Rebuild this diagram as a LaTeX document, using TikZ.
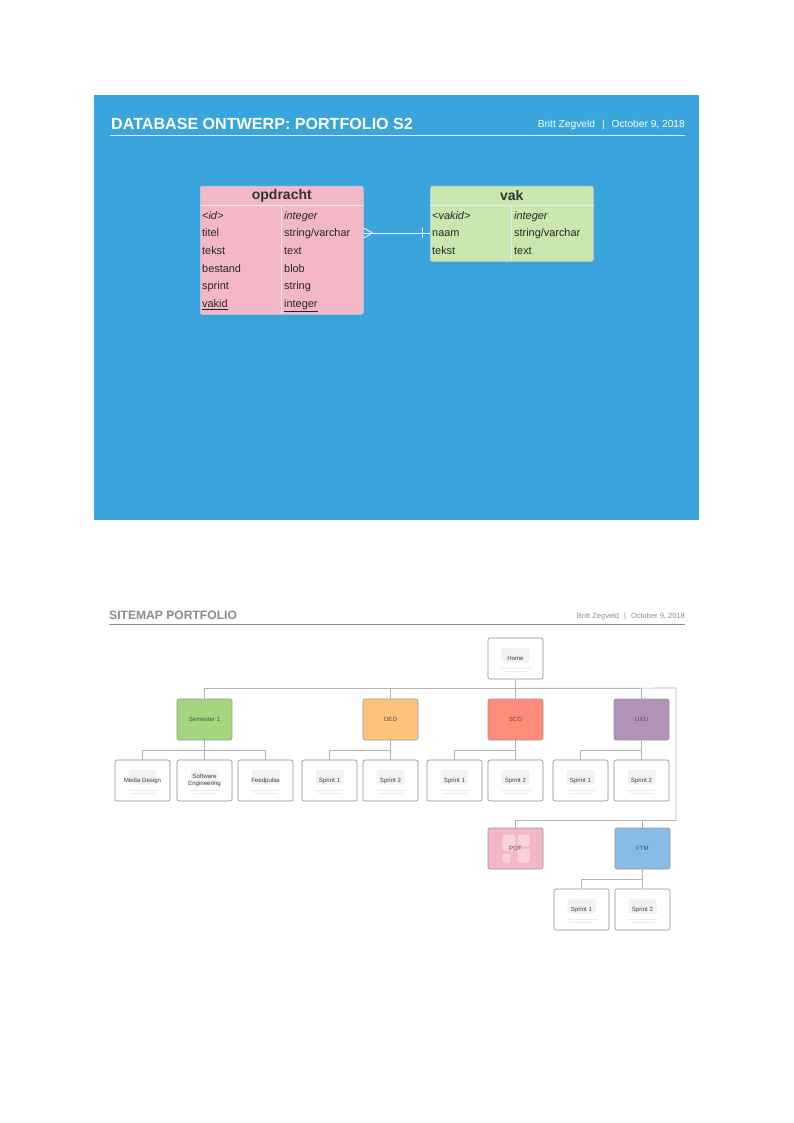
\documentclass[tikz,border=0pt]{standalone}
\usepackage{fontspec}
\setmainfont{Liberation Sans}
\usetikzlibrary{calc}
\definecolor{bgblue}{HTML}{3AA4DD}
\definecolor{tpink}{HTML}{F4B7C7}
\definecolor{tgreen}{HTML}{C9E7AE}
\definecolor{cgreen}{HTML}{A4D67E}
\definecolor{corange}{HTML}{FFC27D}
\definecolor{csalmon}{HTML}{FF8B7B}
\definecolor{cpurple}{HTML}{B292B8}
\definecolor{cpink}{HTML}{F4B5C6}
\definecolor{cblue}{HTML}{86BCE6}
\definecolor{hgray}{HTML}{8C8C8C}
\definecolor{lgray}{HTML}{B5B5B5}
\tikzset{
  tbl/.style={draw=white!80!black, line width=0.6pt, rounded corners=2pt, anchor=north west, inner sep=0pt},
  cell/.style={anchor=base west, font=\fontsize{10.9}{12}\selectfont, text=black!85, inner sep=0pt},
  thead/.style={font=\bfseries\fontsize{14}{16}\selectfont, text=black!80, inner sep=0pt},
  sep/.style={draw=white!85!gray, line width=0.7pt},
  rel/.style={draw=white, line width=0.8pt},
  pg/.style={draw=black!45, line width=0.6pt, rounded corners=2pt, minimum width=55pt, minimum height=41pt,
    fill=white, inner sep=1pt, align=center, text=black!75, font=\fontsize{6.1}{7}\selectfont,
    path picture={
      \fill[black!5] ([xshift=-14pt,yshift=11pt]path picture bounding box.center) rectangle ([xshift=14pt,yshift=-4pt]path picture bounding box.center);
      \draw[black!8, line width=0.8pt] ([xshift=-15pt,yshift=-10pt]path picture bounding box.center) -- ([xshift=15pt,yshift=-10pt]path picture bounding box.center);
      \draw[black!8, line width=0.8pt] ([xshift=-12pt,yshift=-13pt]path picture bounding box.center) -- ([xshift=12pt,yshift=-13pt]path picture bounding box.center);
    }},
  sect/.style={draw=black!40, line width=0.6pt, rounded corners=2pt, minimum width=55pt, minimum height=41pt,
    inner sep=1pt, text=black!70, font=\fontsize{6.1}{7}\selectfont},
  conn/.style={draw=lgray, line width=0.6pt},
}
\begin{document}
\begin{tikzpicture}[x=1pt,y=-1pt]
\useasboundingbox (0,0) rectangle (794,1123);
\fill[white] (0,0) rectangle (794,1123);

% ================= top panel =================
\fill[bgblue] (94,95) rectangle (699,520);
\node[anchor=base west, inner sep=0pt, text=white, font=\bfseries\fontsize{16.1}{18}\selectfont] (dbtitle) at (111,130) {DATABASE ONTWERP: PORTFOLIO S2};
\node[anchor=base east, inner sep=0pt, text=white, font=\fontsize{10.2}{12}\selectfont] (dbauthor) at (685,128) {Britt Zegveld\hspace{7pt}|\hspace{7pt}October 9, 2018};
\draw[white!80!bgblue, line width=0.8pt] (110,135) -- (685,135);

% table opdracht
\node[tbl, fill=tpink, minimum width=163pt, minimum height=128pt] (opd) at (200,186) {};
\draw[sep] (opd.north west |- 0,205) -- (opd.north east |- 0,205);
\draw[sep] (281,205) -- (281,313.5);
\node[thead] (opdh) at ($(opd.north)+(0,9.5)$) {opdracht};
\node[cell] (o1a) at (202,219) {\itshape <id>};
\node[cell] (o1b) at (284,219) {\itshape integer};
\node[cell] (o2a) at (202,236.5) {titel};
\node[cell] (o2b) at (284,236.5) {string/varchar};
\node[cell] (o3a) at (202,254.3) {tekst};
\node[cell] (o3b) at (284,254.3) {text};
\node[cell] (o4a) at (202,272) {bestand};
\node[cell] (o4b) at (284,272) {blob};
\node[cell] (o5a) at (202,289.8) {sprint};
\node[cell] (o5b) at (284,289.8) {string};
\node[cell] (o6a) at (202,307.5) {\underline{vakid}};
\node[cell] (o6b) at (284,307.5) {\underline{integer}};

% table vak
\node[tbl, fill=tgreen, minimum width=163pt, minimum height=75pt] (vak) at (430,186) {};
\draw[sep] (vak.north west |- 0,205) -- (vak.north east |- 0,205);
\draw[sep] (511,205) -- (511,260.5);
\node[thead] (vakh) at ($(vak.north)+(0,9.5)$) {vak};
\node[cell] (v1a) at (432,219) {\itshape <vakid>};
\node[cell] (v1b) at (514,219) {\itshape integer};
\node[cell] (v2a) at (432,236.5) {naam};
\node[cell] (v2b) at (514,236.5) {string/varchar};
\node[cell] (v3a) at (432,254.3) {tekst};
\node[cell] (v3b) at (514,254.3) {text};

% relation
\coordinate (ra) at ($(opd.north east)+(0,47)$);
\coordinate (rb) at ($(vak.north west)+(0,47)$);
\draw[rel] (ra) -- (rb);
\draw[rel] ($(ra)+(0,-5)$) -- ($(ra)+(9,0)$) -- ($(ra)+(0,5)$);
\draw[rel] ($(rb)+(-8,-5)$) -- ($(rb)+(-8,5)$);

% ================= sitemap =================
\node[anchor=base west, inner sep=0pt, text=hgray, font=\bfseries\fontsize{12.1}{14}\selectfont] (smtitle) at (109,619.5) {SITEMAP PORTFOLIO};
\node[anchor=base east, inner sep=0pt, text=black!45, font=\fontsize{7.5}{9}\selectfont] (smauthor) at (685,618) {Britt Zegveld\hspace{5pt}|\hspace{5pt}October 9, 2018};
\draw[black!45, line width=0.7pt] (109,624.5) -- (685,624.5);

\node[pg] (home) at (515.5,658.5) {Home};

\node[sect, fill=cgreen]  (sem) at (204.5,719.5) {Semester 1};
\node[sect, fill=corange] (ded) at (390.5,719.5) {DED};
\node[sect, fill=csalmon] (sco) at (515.5,719.5) {SCO};
\node[sect, fill=cpurple] (uxu) at (641.5,719.5) {UXU};

\node[pg] (md)  at (142.5,780.5) {Media Design};
\node[pg] (se)  at (204.5,780.5) {Software\\Engineering};
\node[pg] (fp)  at (265.5,780.5) {Feedpulse};
\node[pg] (ds1) at (329.5,780.5) {Sprint 1};
\node[pg] (ds2) at (390.5,780.5) {Sprint 2};
\node[pg] (ss1) at (454.5,780.5) {Sprint 1};
\node[pg] (ss2) at (515.5,780.5) {Sprint 2};
\node[pg] (us1) at (580.5,780.5) {Sprint 1};
\node[pg] (us2) at (641.5,780.5) {Sprint 2};

\node[sect, fill=cpink, path picture={
  \fill[white!40!cpink] ([xshift=-13pt,yshift=14pt]path picture bounding box.center) rectangle ([xshift=0pt,yshift=-2pt]path picture bounding box.center);
  \fill[white!40!cpink] ([xshift=2pt,yshift=14pt]path picture bounding box.center) rectangle ([xshift=14pt,yshift=2pt]path picture bounding box.center);
  \fill[white!40!cpink] ([xshift=2pt,yshift=0pt]path picture bounding box.center) rectangle ([xshift=14pt,yshift=-14pt]path picture bounding box.center);
  \fill[white!40!cpink] ([xshift=-13pt,yshift=-5pt]path picture bounding box.center) rectangle ([xshift=-5pt,yshift=-14pt]path picture bounding box.center);
}] (pot) at (515.5,848.5) {POT};
\node[sect, fill=cblue] (ftm) at (642.5,848.5) {FTM};

\node[pg] (fs1) at (581.5,909.5) {Sprint 1};
\node[pg] (fs2) at (642.5,909.5) {Sprint 2};

% connectors
\coordinate (hb) at ($(home.south)+(0,9)$);
\coordinate (rc) at (676,688);
\coordinate (rd) at (676,820);
\draw[conn] (home.south) -- (hb);
\draw[conn] (hb) -| (sem.north);
\draw[conn] (hb) -| (ded.north);
\draw[conn] (hb) -- (sco.north);
\draw[conn] (hb) -| (uxu.north);
\draw[conn] (hb) -- (rc) -- (rd);
\draw[conn] (rd) -| (pot.north);
\draw[conn] (rd) -| (ftm.north);

\foreach \p/\c in {sem/md, sem/se, sem/fp, ded/ds1, ded/ds2, sco/ss1, sco/ss2, uxu/us1, uxu/us2, ftm/fs1, ftm/fs2}{
  \draw[conn] (\p.south) -- ++(0,10) -| (\c.north);
}
\end{tikzpicture}
\end{document}
